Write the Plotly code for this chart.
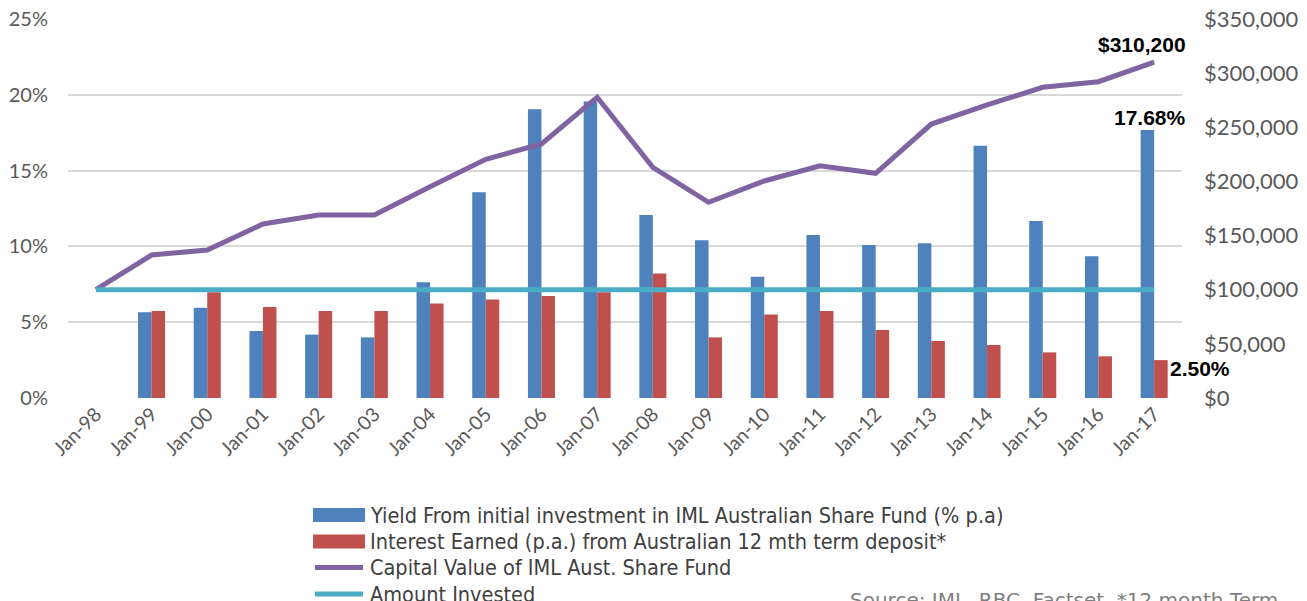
import plotly.graph_objects as go

categories = ["Jan-98", "Jan-99", "Jan-00", "Jan-01", "Jan-02", "Jan-03", "Jan-04", "Jan-05",
              "Jan-06", "Jan-07", "Jan-08", "Jan-09", "Jan-10", "Jan-11", "Jan-12", "Jan-13",
              "Jan-14", "Jan-15", "Jan-16", "Jan-17"]
yield_pct = [None, 5.65, 5.96, 4.42, 4.18, 4.0, 7.63, 13.57, 19.04, 19.55, 12.07,
             10.4, 8.0, 10.75, 10.09, 10.2, 16.64, 11.68, 9.35, 17.68]
interest_pct = [None, 5.74, 6.97, 6.0, 5.74, 5.74, 6.24, 6.49, 6.73, 6.98, 8.22,
                4.0, 5.5, 5.74, 4.49, 3.76, 3.5, 3.01, 2.75, 2.5]
capital_value = [100000, 132000, 136700, 160700, 169000, 169000, 195100, 220400, 234600, 277700,
                 213000, 180700, 200400, 214500, 207500, 253000, 270600, 286900, 292100, 310200]
amount_invested = [100000] * 20

left_ticks = [0, 5, 10, 15, 20, 25]
left_labels = ["0%", "5%", "10%", "15%", "20%", "25%"]
right_ticks = [0, 50000, 100000, 150000, 200000, 250000, 300000, 350000]
right_labels = ["$0", "$50,000", "$100,000", "$150,000", "$200,000", "$250,000", "$300,000", "$350,000"]

names = ["Yield From initial investment in IML Australian Share Fund (% p.a)",
         "Interest Earned (p.a.) from Australian 12 mth term deposit*",
         "Capital Value of IML Aust. Share Fund",
         "Amount Invested"]
colors = ["#4F81BD", "#C0504D", "#8064A2", "#4BACC6"]
source_text = "Source: IML, RBC, Factset, *12 month Term"

# page pixel -> paper coordinate helpers (plot area spans page x 68..1182, y 19..398)
PX0, PX1, PY0, PY1 = 68, 1182, 398, 19
def px(x):
    return (x - PX0) / (PX1 - PX0)
def py(y):
    return (PY0 - y) / (PY0 - PY1)

left_font = dict(family="Lato, Open Sans, sans-serif", size=20, color="#595959")
right_font = dict(family="Lato, Open Sans, sans-serif", size=22, color="#595959")
legend_font = dict(family="DejaVu Sans Condensed, DejaVu Sans, sans-serif", size=21.5, color="#404040")

fig = go.Figure()
fig.add_trace(go.Bar(x=categories, y=yield_pct, name=names[0], marker_color=colors[0],
                     marker_line_width=0, showlegend=False))
fig.add_trace(go.Bar(x=categories, y=interest_pct, name=names[1], marker_color=colors[1],
                     marker_line_width=0, showlegend=False))
fig.add_trace(go.Scatter(x=categories, y=capital_value, name=names[2], yaxis="y2", mode="lines",
                         line=dict(color=colors[2], width=5), showlegend=False))
fig.add_trace(go.Scatter(x=categories, y=amount_invested, name=names[3], yaxis="y2", mode="lines",
                         line=dict(color=colors[3], width=5), showlegend=False))

label_font = dict(family="Liberation Sans, Arial, sans-serif", size=21, color="#000000")
fig.add_annotation(x=categories[-1], y=capital_value[-1], yref="y2", text="<b>$310,200</b>",
                   showarrow=False, xanchor="right", yanchor="middle", xshift=34, yshift=18,
                   font=label_font)
fig.add_annotation(x=categories[-1], y=yield_pct[-1], yref="y", text="<b>17.68%</b>",
                   showarrow=False, xanchor="right", yanchor="middle", xshift=34, yshift=12,
                   font=label_font)
fig.add_annotation(x=categories[-1], y=interest_pct[-1], yref="y", text="<b>2.50%</b>",
                   showarrow=False, xanchor="left", yanchor="middle", xshift=14, yshift=-8,
                   font=label_font)
fig.add_annotation(x=px(848), y=py(586), xref="paper", yref="paper", text=source_text,
                   showarrow=False, xanchor="left", yanchor="top",
                   font=dict(family="DejaVu Sans, sans-serif", size=20, color="#7f7f7f"))

# custom legend (swatches + real text)
row_y = [515, 541.5, 567.5, 594]
for i, (name, col) in enumerate(zip(names, colors)):
    yc = row_y[i]
    if i < 2:
        fig.add_shape(type="rect", xref="paper", yref="paper",
                      x0=px(313), x1=px(365), y0=py(yc + 7), y1=py(yc - 7),
                      fillcolor=col, line_width=0)
    else:
        fig.add_shape(type="line", xref="paper", yref="paper",
                      x0=px(315), x1=px(363), y0=py(yc), y1=py(yc),
                      line=dict(color=col, width=5))
    fig.add_annotation(x=px(368), y=py(yc), xref="paper", yref="paper", text=name,
                       showarrow=False, xanchor="left", yanchor="middle", font=legend_font)

fig.update_layout(
    width=1307, height=601,
    margin=dict(l=60, r=133, t=11, b=211, autoexpand=False),
    paper_bgcolor="white", plot_bgcolor="white",
    barmode="group", bargap=0.515, bargroupgap=0,
    showlegend=False,
    xaxis=dict(type="category", range=[-0.5, 19.5], autorange=False, tickangle=-45,
               tickfont=dict(family="Lato, Open Sans, sans-serif", size=19.5, color="#595959"),
               showgrid=False, showline=False, ticks="", ticklabeloverflow="allow"),
    yaxis=dict(range=[0, 25], autorange=False, tickvals=left_ticks, ticktext=left_labels, tickfont=left_font,
               showgrid=True, gridcolor="#d9d9d9", gridwidth=2, zeroline=False, showline=False,
               ticklabelstandoff=19, ticklabeloverflow="allow"),
    yaxis2=dict(range=[0, 350000], autorange=False, tickvals=right_ticks, ticktext=right_labels,
                tickfont=right_font, overlaying="y", side="right", showgrid=False, zeroline=False,
                showline=False, ticklabelstandoff=21, ticklabeloverflow="allow"),
)

fig.write_html("out.html")
